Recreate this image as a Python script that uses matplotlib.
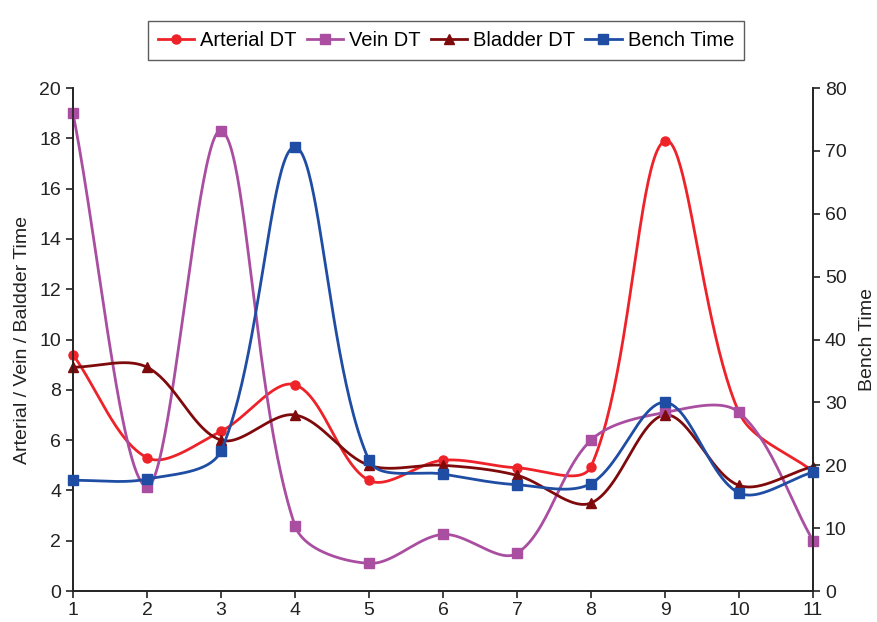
import numpy as np
import matplotlib
matplotlib.use('Agg')
import matplotlib.pyplot as plt

plt.rcParams['font.family'] = ['Liberation Sans', 'DejaVu Sans']

x_vals = [1, 2, 3, 4, 5, 6, 7, 8, 9, 10, 11]
arterial_dt = [9.4, 5.3, 6.35, 8.2, 4.4, 5.2, 4.9, 4.95, 17.9, 7.1, 4.75]
vein_dt = [19.0, 4.15, 18.3, 2.6, 1.1, 2.25, 1.5, 6.0, 7.1, 7.1, 2.0]
bladder_dt = [8.9, 8.9, 6.0, 7.0, 5.0, 5.0, 4.6, 3.5, 7.0, 4.2, 4.95]
bench_time = [17.6, 17.8, 22.3, 70.6, 20.8, 18.6, 16.9, 17.1, 30.0, 15.6, 18.9]

# pixels per unit, so the smoothing is done in screen space like excel
XPX = 74.0
YPX_LEFT = 25.15
YPX_RIGHT = 6.29


def smooth(xs, ys, ypx, n=50, tension=1 / 3.):
    # bezier with control arms weighted by the neighbouring segment lengths
    p = np.column_stack([np.asarray(xs, float) * XPX, np.asarray(ys, float) * ypx])
    m = len(p)
    outc, inc = [], []
    for i in range(m):
        prev = p[i - 1] if i > 0 else p[i]
        nxt = p[i + 1] if i < m - 1 else p[i]
        tan = nxt - prev
        d0 = np.hypot(*(p[i] - prev))
        d1 = np.hypot(*(nxt - p[i]))
        tot = d0 + d1 if d0 + d1 > 0 else 1
        outc.append(p[i] + tan * d1 / tot * tension)
        inc.append(p[i] - tan * d0 / tot * tension)
    t = np.linspace(0, 1, n)[:, None]
    pts = []
    for i in range(m - 1):
        b = (1 - t) ** 3 * p[i] + 3 * (1 - t) ** 2 * t * outc[i] \
            + 3 * (1 - t) * t ** 2 * inc[i + 1] + t ** 3 * p[i + 1]
        pts.append(b)
    pts = np.vstack(pts)
    return pts[:, 0] / XPX, pts[:, 1] / ypx


fig = plt.figure(figsize=(8.78, 6.22), dpi=100)
ax = fig.add_axes([0.0831, 0.0498, 0.8429, 0.8087])
ax2 = ax.twinx()

red = '#ee2229'
purple = '#a94ea0'
dred = '#7f0a0c'
blue = '#1f4da3'

series = [
    (ax, arterial_dt, YPX_LEFT, red, 'o', 'Arterial DT'),
    (ax, vein_dt, YPX_LEFT, purple, 's', 'Vein DT'),
    (ax, bladder_dt, YPX_LEFT, dred, '^', 'Bladder DT'),
    (ax2, bench_time, YPX_RIGHT, blue, 's', 'Bench Time'),
]
handles = []
for a, ys, ypx, col, mk, lab in series:
    sx, sy = smooth(x_vals, ys, ypx)
    a.plot(sx, sy, color=col, lw=2, clip_on=False, zorder=3)
    a.plot(x_vals, ys, ls='none', marker=mk, color=col, ms=6.5, clip_on=False, zorder=4)
    h, = ax.plot([], [], color=col, lw=2, marker=mk, ms=6.5, label=lab)
    handles.append(h)

ax.set_xlim(1, 11)
ax.set_ylim(0, 20)
ax2.set_ylim(0, 80)
ax.set_xticks(x_vals)
ax.set_yticks(range(0, 21, 2))
ax2.set_yticks(range(0, 81, 10))

for a in (ax, ax2):
    a.spines['top'].set_visible(False)
    for s in a.spines.values():
        s.set_color('#222222')
        s.set_linewidth(1.2)
    a.tick_params(direction='out', length=5, width=1.2, labelsize=14, colors='#222222')
ax.tick_params(axis='x', pad=3)

ax.set_ylabel('Arterial / Vein / Baldder Time', fontsize=14, color='#222222', labelpad=6)
ax2.set_ylabel('Bench Time', fontsize=14, color='#222222', labelpad=9)

fig.legend(handles=handles, loc='upper center', bbox_to_anchor=(0.508, 0.982), ncol=4,
           fontsize=14.5, frameon=True, fancybox=False, edgecolor='#333333',
           handlelength=1.8, handletextpad=0.3, columnspacing=0.5, borderpad=0.5)

fig.savefig('out.png', dpi=100)
